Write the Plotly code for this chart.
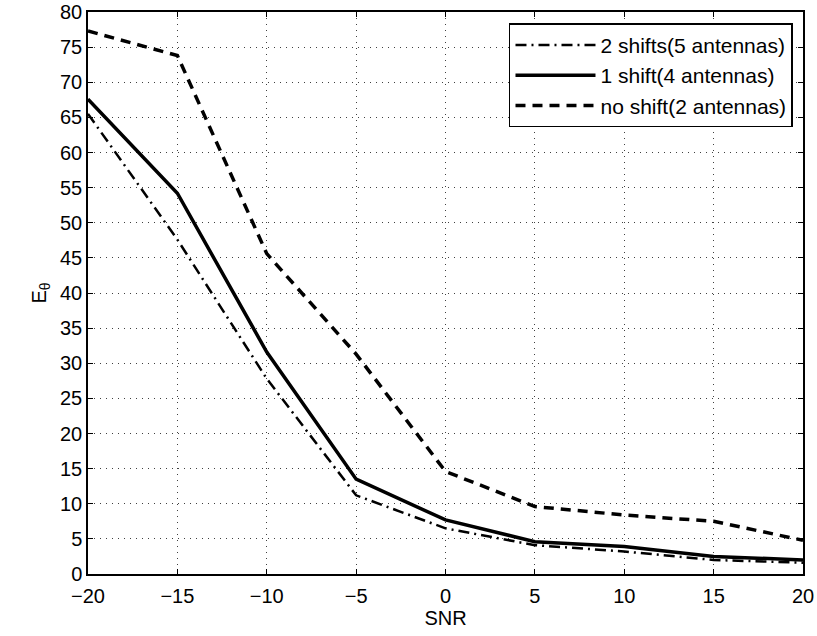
import plotly.graph_objects as go

snr = [-20, -15, -10, -5, 0, 5, 10, 15, 20]
two_shifts = [65.5, 47.6, 27.8, 11.2, 6.5, 4.1, 3.2, 2.0, 1.6]
one_shift = [67.6, 54.2, 31.6, 13.5, 7.7, 4.6, 3.9, 2.5, 2.0]
no_shift = [77.3, 73.8, 45.6, 31.3, 14.6, 9.6, 8.4, 7.5, 4.8]

names = ["2 shifts(5 antennas)", "1 shift(4 antennas)", "no shift(2 antennas)"]

fig = go.Figure()
fig.add_trace(go.Scatter(x=snr, y=two_shifts, mode="lines", name=names[0],
                         line=dict(color="black", width=2.5, dash="11px,5px,2px,5px")))
fig.add_trace(go.Scatter(x=snr, y=one_shift, mode="lines", name=names[1],
                         line=dict(color="black", width=3.5)))
fig.add_trace(go.Scatter(x=snr, y=no_shift, mode="lines", name=names[2],
                         line=dict(color="black", width=3.5, dash="10px,7px")))

font = dict(family="Liberation Sans, Arial, Helvetica, sans-serif", size=20, color="black")
axis_common = dict(showline=True, linecolor="black", linewidth=1.5, mirror="ticks",
                   ticks="inside", ticklen=5, tickcolor="black",
                   showgrid=True, gridcolor="rgba(0,0,0,0.75)", griddash="1px,5px", gridwidth=1,
                   zeroline=False, tickfont=font, automargin=False)

fig.update_layout(
    width=817, height=636,
    margin=dict(l=88, r=14, t=12, b=62),
    paper_bgcolor="white", plot_bgcolor="white",
    font=font,
    xaxis=dict(range=[-20, 20], tickvals=[-20, -15, -10, -5, 0, 5, 10, 15, 20],
               ticklabelstandoff=3,
               title=dict(text="SNR", font=font, standoff=4), **axis_common),
    yaxis=dict(range=[0, 80], tickvals=list(range(0, 81, 5)),
               title=dict(text="E<sub>θ</sub>", font=font, standoff=8), **axis_common),
    legend=dict(x=0.986, y=0.98, xanchor="right", yanchor="top",
                bgcolor="white", bordercolor="black", borderwidth=1.5,
                font=dict(family="Liberation Sans, Arial, sans-serif", size=21, color="black"),
                tracegroupgap=0, itemwidth=80),
    showlegend=True,
)

fig.write_html("out.html", config={"displayModeBar": False},
               post_script="document.body.style.margin='0';document.body.style.overflow='hidden';")
